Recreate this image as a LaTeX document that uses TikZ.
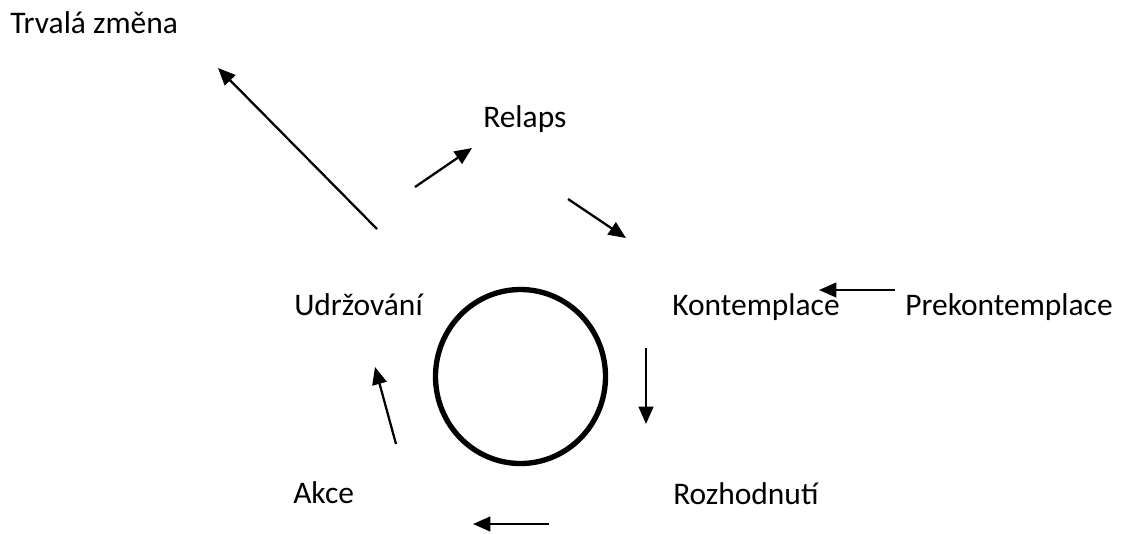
\documentclass[tikz,border=0pt]{standalone}
\usepackage{fontspec}
\setmainfont{Carlito}
\usetikzlibrary{arrows.meta,shapes.geometric}
\begin{document}
\begin{tikzpicture}[x=0.75pt,y=-0.75pt,
  lbl/.style={anchor=base west,inner sep=0pt,font=\fontsize{23.6pt}{28pt}\selectfont},
  arr/.style={line width=1.7pt,-{Triangle[length=13pt,width=11pt]}},
  ring/.style={draw,line width=4pt,ellipse,inner sep=0pt,outer sep=0pt,minimum width=127.5pt,minimum height=130.5pt}]
\useasboundingbox (0,0) rectangle (1123,533);
% labels
\node[lbl] (trvala) at (10,33) {Trvalá změna};
\node[lbl] (relaps) at (483,127) {Relaps};
\node[lbl] (kontem) at (672,315) {Kontemplace};
\node[lbl] (prekon) at (905,315) {Prekontemplace};
\node[lbl] (udrz) at (294,315) {Udržování};
\node[lbl] (akce) at (293,503) {Akce};
\node[lbl] (rozh) at (673,504) {Rozhodnutí};
% circle
\node[ring] (c) at (520.5,376.5) {};
% arrow endpoints
\coordinate (t1) at (377,229); \coordinate (h1) at (218,68);
\coordinate (t2) at (415,187); \coordinate (h2) at (472,148);
\coordinate (t3) at (568,199); \coordinate (h3) at (626,238);
\coordinate (t4) at (895,290); \coordinate (h4) at (819,290);
\coordinate (t5) at (646,348); \coordinate (h5) at (646,424);
\coordinate (t6) at (549,524); \coordinate (h6) at (473,524);
\coordinate (t7) at (396,444); \coordinate (h7) at (375,367);
\draw[arr] (t1) -- (h1);
\draw[arr] (t2) -- (h2);
\draw[arr] (t3) -- (h3);
\draw[arr] (t4) -- (h4);
\draw[arr] (t5) -- (h5);
\draw[arr] (t6) -- (h6);
\draw[arr] (t7) -- (h7);
\end{tikzpicture}
\end{document}
